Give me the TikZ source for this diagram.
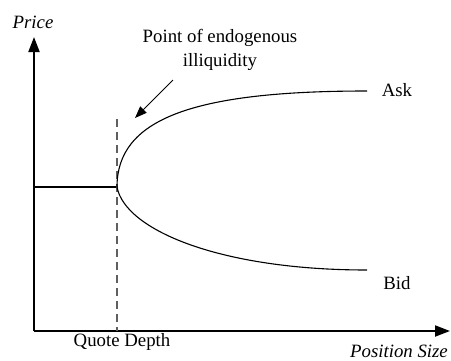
\documentclass[tikz,border=0pt]{standalone}
\usepackage{fontspec}
\setmainfont{Liberation Serif}
\usetikzlibrary{positioning,arrows.meta}
\definecolor{dashgray}{RGB}{95,95,95}

\begin{document}
\begin{tikzpicture}[x=0.5pt,y=-0.5pt,
  axis/.style={line width=1pt,-{Triangle[length=7.5pt,width=5.5pt]}},
  curve/.style={line width=0.55pt},
  depthline/.style={dashgray,line width=1.2pt,dash pattern=on 4pt off 2.5pt},
  pointer/.style={line width=0.5pt,-{Triangle[length=6pt,width=4.5pt]}},
  lbl/.style={font=\fontsize{9.4}{12}\selectfont,inner sep=0pt}]
  % Picture units are pixels of the 451x360 frame, y counts downward.
  \useasboundingbox (0,0) rectangle (451,360);
  % Axes from the lower left corner
  \coordinate (origin) at (34,331);
  \coordinate (ytip) at (34,37);
  \coordinate (xtip) at (450,331);
  \draw[axis] (origin) -- (ytip);
  \draw[axis] (origin) -- (xtip);
  \node[lbl,font=\fontsize{9.4}{12}\selectfont\itshape] (pricelbl) at (33,22) {Price};
  \node[lbl,font=\fontsize{9.4}{12}\selectfont\itshape] (sizelbl) at (399,351) {Position Size};
  % Flat price up to the quote depth
  \coordinate (flatstart) at (34,187);
  \coordinate (kink) at (117,187);
  \draw[curve] (flatstart) -- (kink);
  \coordinate (dtop) at (117,119);
  \coordinate (dbot) at (117,331);
  \draw[depthline] (dtop) -- (dbot);
  \node[lbl] (depthlbl) at (122,342) {Quote Depth};
  % Ask and bid fan out beyond the quote depth
  \coordinate (askend) at (367,91);
  \coordinate (bidend) at (367,270);
  \draw[curve] (kink) .. controls (117,120) and (190,91) .. (askend);
  \draw[curve] (kink) .. controls (125,230) and (220,270) .. (bidend);
  \node[lbl] (asklbl) at (397,90) {Ask};
  \node[lbl] (bidlbl) at (397,283) {Bid};
  % Annotation
  \node[lbl,align=center] (pointlbl) at (220,50) {Point of endogenous\\illiquidity};
  \coordinate (ptrstart) at (173,80);
  \coordinate (ptrtip) at (135,118);
  \draw[pointer] (ptrstart) -- (ptrtip);
\end{tikzpicture}
\end{document}
